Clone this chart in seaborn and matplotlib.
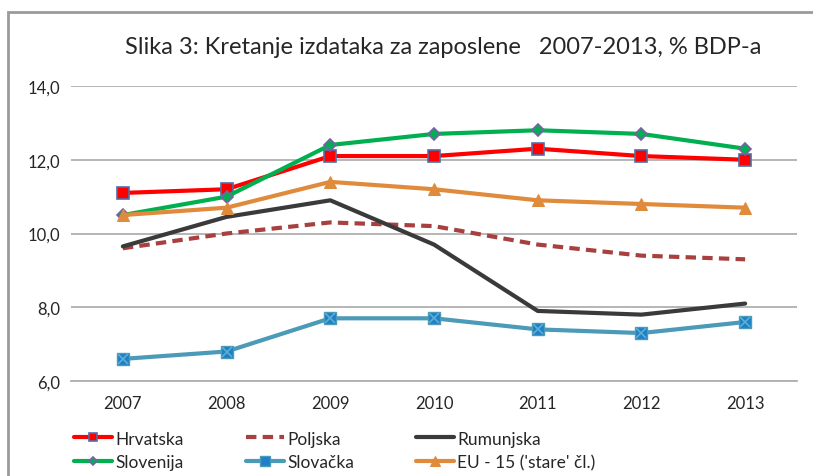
import matplotlib
matplotlib.use("Agg")
import matplotlib.pyplot as plt
import matplotlib.patches as mpatches
import seaborn as sns
import pandas as pd

years = [2007, 2008, 2009, 2010, 2011, 2012, 2013]
hrvatska = [11.1, 11.2, 12.1, 12.1, 12.3, 12.1, 12.0]
slovenija = [10.5, 11.0, 12.4, 12.7, 12.8, 12.7, 12.3]
eu15 = [10.5, 10.7, 11.4, 11.2, 10.9, 10.8, 10.7]
rumunjska = [9.65, 10.45, 10.9, 9.7, 7.9, 7.8, 8.1]
poljska = [9.6, 10.0, 10.3, 10.2, 9.7, 9.4, 9.3]
slovacka = [6.6, 6.8, 7.7, 7.7, 7.4, 7.3, 7.6]

sns.set_style("white")
plt.rcParams['font.family'] = ['Lato', 'DejaVu Sans']

fig = plt.figure(figsize=(8.13, 4.77), dpi=100)
ax = fig.add_axes([71/813, 1 - 382/477, (797-71)/813, (382-87)/477])

# outer frame like the pasted chart
fig.patches.append(mpatches.Rectangle((8/813, -0.1), 1.1, 1 - 13/477 + 0.1,
                                      transform=fig.transFigure, fill=False,
                                      edgecolor='#9a9a9a', linewidth=2))

series = [
    ("Hrvatska", hrvatska, dict(color='#ff0000', lw=3, marker='s', ms=8,
                                mfc='#ff0000', mec='#4f6fa8', mew=1.2)),
    ("Slovenija", slovenija, dict(color='#00b050', lw=3, marker='D', ms=6,
                                  mfc='#00b050', mec='#7a5fa8', mew=1.2)),
    ("Poljska", poljska, dict(color='#a84040', lw=3, ls=(0, (2.5, 1.5)))),
    ("Slovačka", slovacka, dict(color='#4a9ab8', lw=3, marker='s', ms=9,
                                mfc='#1f7fc8', mec='#4a9ab8', mew=1)),
    ("Rumunjska", rumunjska, dict(color='#3a3a3a', lw=3)),
    ("EU - 15 ('stare' čl.)", eu15, dict(color='#e08a3c', lw=3, marker='^', ms=9,
                                         mfc='#e08a3c', mec='#e08a3c')),
]

df = pd.DataFrame({"year": years})
for name, vals, kw in series:
    df[name] = vals

for name, vals, kw in series:
    sns.lineplot(data=df, x="year", y=name, ax=ax, label=name, **kw)

# the x inside the Slovačka squares
ax.plot(df["year"], df["Slovačka"], ls='none', marker='x', ms=7, mec='#5ab0d0', mew=1.2)

ax.set_xlim(2006.5, 2013.5)
ax.set_ylim(6, 14)
ax.set_yticks([6, 8, 10, 12, 14])
ax.set_yticklabels([f"{v:.1f}".replace('.', ',') for v in [6, 8, 10, 12, 14]])
ax.set_xticks(years)
ax.set_xticks([y + 0.5 for y in years[:-1]], minor=True)
ax.tick_params(axis='x', which='major', length=0, pad=10, labelsize=12)
ax.tick_params(axis='x', which='minor', length=6, color='#8a8a8a', direction='out')
ax.tick_params(axis='y', length=0, labelsize=12, pad=8)
ax.set_xlabel("")
ax.set_ylabel("")
ax.grid(axis='y', color='#b0b0b0', lw=1.3)
ax.set_axisbelow(True)
for s in ['top', 'right', 'left']:
    ax.spines[s].set_visible(False)
ax.spines['bottom'].set_color('#b0b0b0')
ax.spines['bottom'].set_linewidth(1.3)

fig.text(0.545, 1 - 48/477, "Slika 3: Kretanje izdataka za zaposlene   2007-2013, % BDP-a",
         ha='center', va='center', fontsize=17)

h, l = ax.get_legend_handles_labels()
h = h[:6]
l = l[:6]
leg = ax.legend(h, l, ncol=3, loc='upper left', bbox_to_anchor=(0.004, -0.168),
                frameon=False, fontsize=12.5, handlelength=2.2, handletextpad=0.2,
                columnspacing=3.55, labelspacing=0.45, borderpad=0, borderaxespad=0,
                markerscale=0.75)

fig.savefig("out.png", dpi=100)
